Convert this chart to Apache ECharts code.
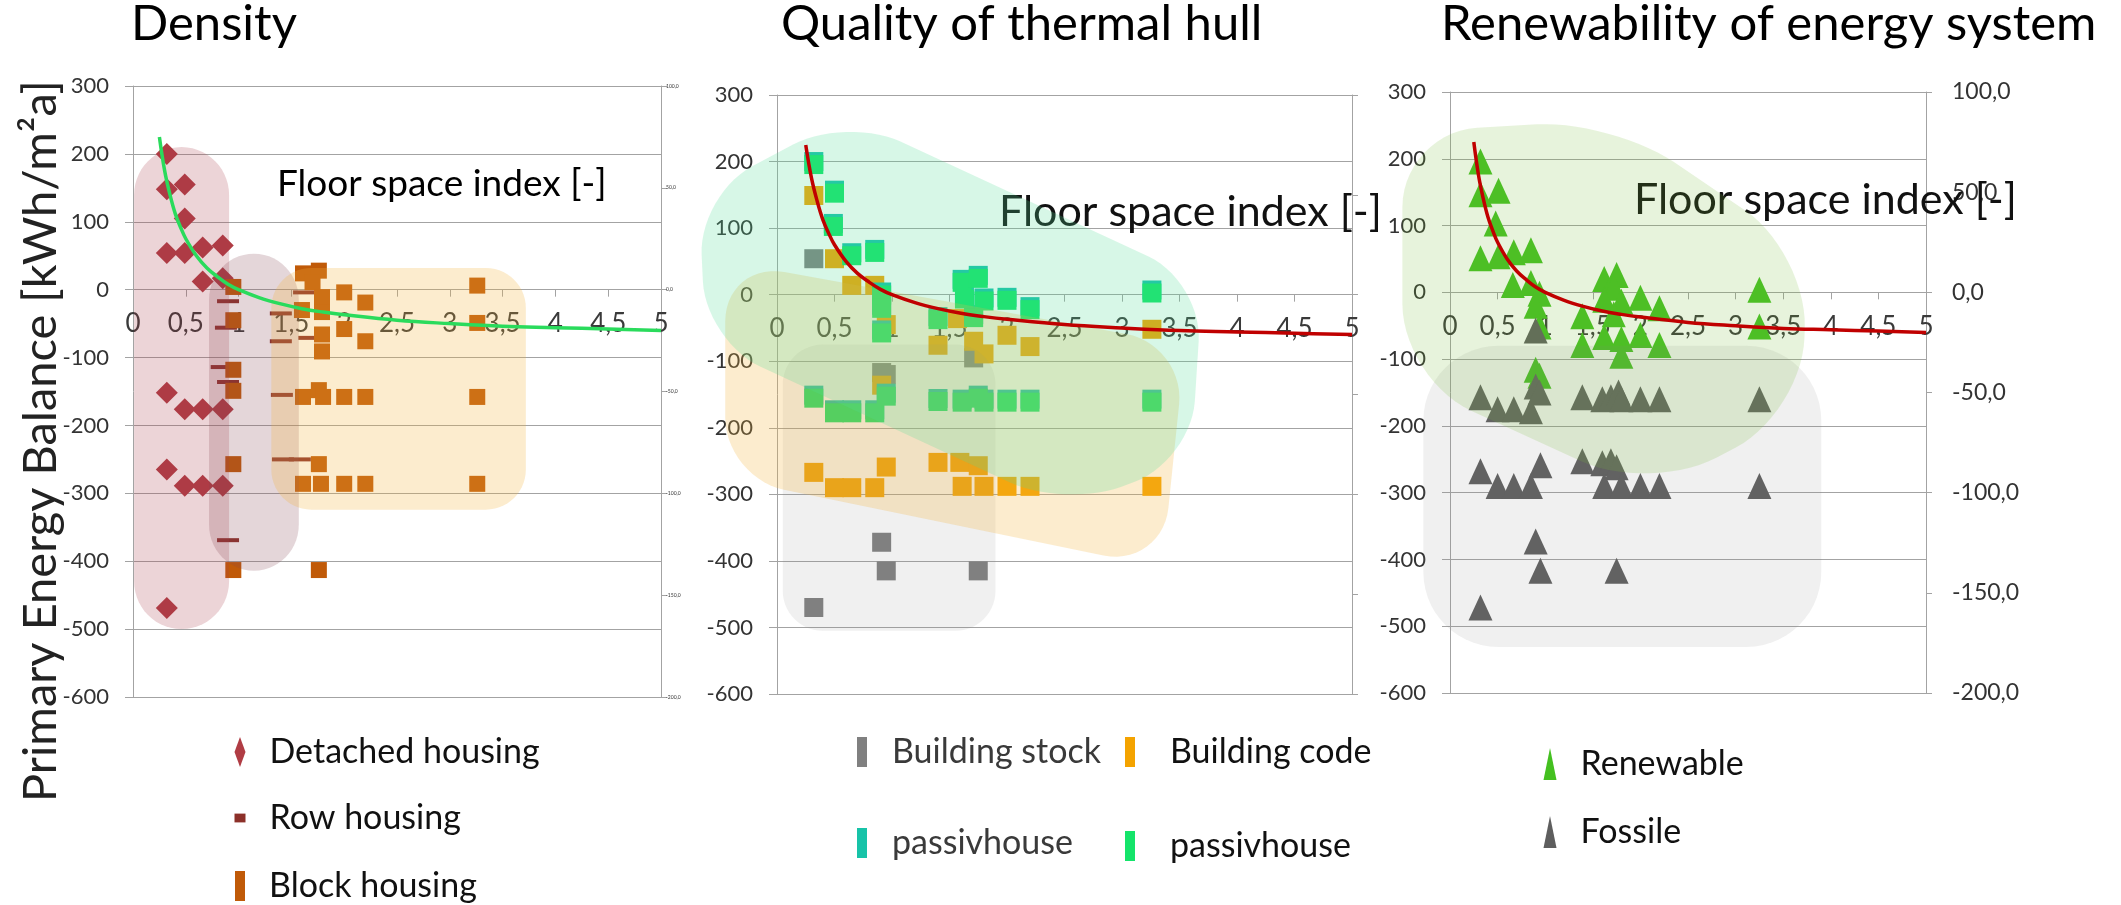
<!DOCTYPE html>
<html><head><meta charset="utf-8">
<script src="https://cdn.jsdelivr.net/npm/echarts@6/dist/echarts.min.js"></script>
<style>html,body{margin:0;padding:0;background:#fff}#c{width:2121px;height:905px}</style>
</head><body><div id="c"></div>
<script>
// ---------- DATA (floor space index, primary energy balance kWh/m²a) ----------
const detached = [[0.32,200],[0.32,148],[0.49,155],[0.49,105],[0.32,54],[0.49,54],[0.66,62],[0.85,65],[0.66,12],[0.85,17],
  [0.32,-152],[0.49,-176],[0.66,-176],[0.85,-176],[0.32,-265],[0.49,-289],[0.66,-289],[0.85,-289],[0.32,-469]];
const rowHousing = [[0.9,-17],[0.88,-56],[0.84,-114],[0.9,-136],[0.9,-369],[1.4,-35],[1.4,-76],[1.41,-155],[1.42,-250],[1.58,-250],[1.62,-4],[1.67,-71]];
const blockHousing = [[0.95,4],[0.95,-45],[0.95,-118],[0.95,-149],[0.95,-257],[0.95,-413],
  [1.61,24],[1.76,28],[1.7,11],[1.79,-11],[1.79,-33],[1.6,-30],[1.79,-66],[1.79,-91],[2.0,-4],[2.2,-19],[2.0,-58],[2.2,-76],[3.26,6],[3.26,-49],
  [1.61,-158],[1.76,-148],[1.8,-158],[2.0,-158],[2.2,-158],[3.26,-158],[1.76,-257],
  [1.61,-286],[1.78,-286],[2.0,-286],[2.2,-286],[3.26,-286],[1.76,-413]];
const buildingStock = [[0.32,54],[0.91,-117],[0.95,-120],[1.71,-95],[0.91,-372],[0.95,-415],[1.75,-415],[0.32,-470]];
const buildingCode = [[0.32,149],[0.5,54],[0.65,14],[0.85,14],[0.95,-45],[1.4,-76],[1.57,-36],[1.71,-70],[1.8,-89],[2.0,-61],[2.2,-78],[3.26,-52],
  [0.91,-136],[0.32,-267],[0.5,-290],[0.65,-290],[0.85,-290],[0.95,-259],[1.4,-252],[1.59,-252],[1.75,-257],[1.61,-288],[1.8,-288],[2.0,-288],[2.2,-288],[3.26,-288]];
const passivhouse = [[0.32,197],[0.5,154],[0.49,104],[0.65,60],[0.85,65],[0.91,1],[0.91,-19],[0.91,-56],[1.4,-36],[1.61,20],[1.75,26],[1.63,-5],[1.8,-8],[1.71,-33],[2.0,-7],[2.2,-21],[3.26,4],
  [0.32,-154],[0.5,-176],[0.65,-176],[0.85,-176],[0.95,-151],[1.4,-159],[1.61,-160],[1.75,-154],[1.8,-160],[2.0,-160],[2.2,-160],[3.26,-160]];
const renewable = [[0.32,196],[0.32,147],[0.51,152],[0.48,103],[0.32,51],[0.51,54],[0.67,60],[0.85,63],[0.66,11],[0.85,14],[0.94,-2],[0.9,-20],[0.94,-51],
  [1.39,-36],[1.39,-79],[1.62,20],[1.75,26],[1.72,7],[1.62,-11],[1.8,-14],[2.0,-8],[2.2,-24],[1.72,-33],[1.62,-67],[1.8,-70],[1.8,-95],[2.0,-64],[2.2,-79],
  [3.25,4],[3.25,-51],[0.9,-116],[0.94,-125]];
const fossile = [[0.9,-57],[0.32,-157],[0.5,-175],[0.67,-175],[0.85,-178],[0.9,-141],[0.94,-150],[1.39,-157],[1.6,-160],[1.69,-157],[1.77,-150],[1.8,-160],[2.0,-160],[2.2,-160],[3.25,-160],
  [0.32,-268],[0.5,-290],[0.67,-290],[0.85,-290],[0.95,-259],[1.39,-253],[1.6,-256],[1.69,-253],[1.75,-262],[1.62,-290],[1.8,-290],[2.0,-290],[2.2,-290],[3.25,-290],
  [0.9,-373],[0.95,-417],[1.75,-417],[0.32,-472]];
const trendline = [[0.25,225],[0.3,175],[0.35,140],[0.4,112],[0.45,92],[0.5,75],[0.6,50],[0.7,32],[0.8,19],[0.9,8],[1.0,0],[1.2,-12],[1.4,-21],
  [1.6,-28],[1.8,-33],[2.0,-37],[2.5,-45],[3.0,-50],[3.5,-54],[4.0,-56],[4.5,-58],[5.0,-60]];
// highlight regions (data coordinates of outline corners)
const regionDetached = [[0.01,210],[0.91,210],[0.91,-500],[0.01,-500]];
const regionRow = [[0.72,53],[1.57,53],[1.57,-414],[0.72,-414]];
const regionBlock = [[1.31,32],[3.72,32],[3.72,-324],[1.31,-324]];
const regionPassiv = [[-0.68,150],[0.6,268],[3.7,20],[3.6,-250],[2.5,-320],[-0.62,-70]];
const regionCode = [[-0.45,50],[3.55,-75],[3.35,-410],[-0.45,-275]];
const regionStock = [[0.05,-75],[1.9,-75],[1.9,-505],[0.05,-505]];
const regionRenew = [[-0.5,240],[1.7,258],[3.75,60],[3.7,-180],[2.1,-300],[-0.5,-130]];
const regionFossil = [[-0.28,-80],[3.9,-80],[3.9,-531],[-0.28,-531]];
const yLeftRange = [-600, 300, 100];
const yRightRange = [-200, 100, 50];
const xRange = [0, 5, 0.5];
const titles = ['Density','Quality of thermal hull','Renewability of energy system'];
const xLabelName = 'Floor space index [-]';
const yAxisName = 'Primary Energy Balance [kWh/m²a]';

// ---------- STYLE ----------
const FONT = 'Lato, "Open Sans", sans-serif';
const grids = [
  {left:133, top:86, width:528, height:611},
  {left:777, top:95, width:575, height:599},
  {left:1450, top:92, width:476, height:601}
];
const GRID = '#A3A3A3';

function roundedPoly(p, r, segs){
  const n = p.length, out = [], K = 0.5523;
  for (let i=0;i<n;i++){
    const p0=p[(i-1+n)%n], p1=p[i], p2=p[(i+1)%n];
    const d1=Math.hypot(p0[0]-p1[0],p0[1]-p1[1]), d2=Math.hypot(p2[0]-p1[0],p2[1]-p1[1]);
    const r1=Math.min(r,d1/2), r2=Math.min(r,d2/2);
    const a=[p1[0]+(p0[0]-p1[0])/d1*r1, p1[1]+(p0[1]-p1[1])/d1*r1];
    const b=[p1[0]+(p2[0]-p1[0])/d2*r2, p1[1]+(p2[1]-p1[1])/d2*r2];
    const c1=[a[0]+(p1[0]-a[0])*K, a[1]+(p1[1]-a[1])*K];
    const c2=[b[0]+(p1[0]-b[0])*K, b[1]+(p1[1]-b[1])*K];
    for (let k=0;k<=segs;k++){
      const t=k/segs, u=1-t;
      out.push([u*u*u*a[0]+3*u*u*t*c1[0]+3*u*t*t*c2[0]+t*t*t*b[0],
                u*u*u*a[1]+3*u*u*t*c1[1]+3*u*t*t*c2[1]+t*t*t*b[1]]);
    }
  }
  return out;
}
function regionSeries(gi, list){
  return {
    type:'custom', xAxisIndex:gi, yAxisIndex:2*gi, z:3, silent:true, clip:false,
    data: list.map(()=>[0,0]),
    renderItem:(params, api)=>{
      const s = list[params.dataIndex];
      const px = s.pts.map(q=>api.coord(q));
      return {type:'polygon', shape:{points: roundedPoly(px, s.r, 14)}, style:{fill:s.fill}};
    }
  };
}
const comma = v => String(v).replace('.', ',');

const xAxes = [], yAxes = [];
for (let i=0;i<3;i++){
  // x axis drawn along the zero line of the left value axis
  const zeroShift = grids[i].height * (0 - yLeftRange[0]) / (yLeftRange[1] - yLeftRange[0]);
  xAxes.push({gridIndex:i, type:'value', min:xRange[0], max:xRange[1], interval:xRange[2], position:'bottom', offset:-zeroShift,
    axisLine:{show:true, onZero:false, lineStyle:{color:GRID, width:1}},
    axisTick:{show:true, length:7, lineStyle:{color:GRID}},
    axisLabel:{fontSize:26, color:'#3a3a3a', fontFamily:FONT, margin:21, formatter:comma, hideOverlap:false},
    splitLine:{show:false}});
  yAxes.push({gridIndex:i, type:'value', min:yLeftRange[0], max:yLeftRange[1], interval:yLeftRange[2], position:'left',
    axisLine:{show:true, onZero:false, lineStyle:{color:GRID}},
    axisTick:{show:true, length:8, lineStyle:{color:GRID}},
    axisLabel:{fontSize:22, color:'#333', fontFamily:FONT, margin:24},
    splitLine:{show:true, lineStyle:{color:GRID, width:1.2}}});
  yAxes.push({gridIndex:i, type:'value', min:yRightRange[0], max:yRightRange[1], interval:yRightRange[2], position:'right',
    axisLine:{show:true, onZero:false, lineStyle:{color:GRID}},
    axisTick:{show:true, length:6, lineStyle:{color:GRID}},
    axisLabel:{show:i!==1, fontSize:i===0?5:23, color:'#333', fontFamily:FONT, margin:i===0?5:26,
      formatter:v=>v.toFixed(1).replace('.', ',')},
    splitLine:{show:false}});
}

function scatter(name, gi, data, symbol, size, color, extra){
  return Object.assign({type:'scatter', name, xAxisIndex:gi, yAxisIndex:2*gi, data, symbol, symbolSize:size,
    itemStyle:{color, opacity:1}, z:2, silent:true}, extra||{});
}
function trend(gi, color){
  return {type:'line', xAxisIndex:gi, yAxisIndex:2*gi, data:trendline, smooth:0.4, showSymbol:false, z:4, silent:true,
    lineStyle:{color, width:3.5}};
}

const series = [
  scatter('Detached housing',0,detached,'diamond',22,'#B03C44'),
  scatter('Row housing',0,rowHousing,'rect',[22,4],'#8C3029'),
  scatter('Block housing',0,blockHousing,'rect',16,'#C05A08'),
  regionSeries(0,[
    {pts:regionDetached, r:48, fill:'rgba(170,60,75,0.22)'},
    {pts:regionRow, r:46, fill:'rgba(130,70,80,0.22)'},
    {pts:regionBlock, r:40, fill:'rgba(245,180,60,0.25)'}]),
  trend(0,'#2ADB5C'),
  scatter('Building stock',1,buildingStock,'rect',19,'#808080'),
  scatter('Building code',1,buildingCode,'rect',19,'#F4A300'),
  scatter('passivhouse',1,passivhouse,'rect',19,'#17C3A8',{symbolOffset:[0,-2]}),
  scatter('passivhouse ',1,passivhouse,'rect',19,'#14E46A',{symbolOffset:[0,1]}),
  regionSeries(1,[
    {pts:regionStock, r:40, fill:'rgba(128,128,128,0.12)'},
    {pts:regionCode, r:60, fill:'rgba(245,180,60,0.25)'},
    {pts:regionPassiv, r:60, fill:'rgba(80,220,150,0.23)'}]),
  trend(1,'#C00000'),
  scatter('Renewable',2,renewable,'triangle',[24,26],'#44C020'),
  scatter('Fossile',2,fossile,'triangle',[24,26],'#5E5E5E'),
  regionSeries(2,[
    {pts:regionFossil, r:75, fill:'rgba(128,128,128,0.12)'},
    {pts:regionRenew, r:75, fill:'rgba(120,190,60,0.18)'}]),
  trend(2,'#C00000')
];

// one legend component per entry: [item, marker centre x, text centre y, marker w, marker h, text gap, text colour]
const legendItems = [
  ['Detached housing', 240, 752, 11, 30, 19, '#111'],
  [{name:'Row housing', icon:'path://M0,0h10v8h-10z'}, 240, 818, 11, 30, 19, '#111'],
  ['Block housing', 240, 886, 10, 30, 19, '#111'],
  ['Building stock', 862, 752, 10, 30, 20, '#3a3a3a'],
  ['passivhouse', 862, 843, 10, 30, 20, '#3a3a3a'],
  ['Building code', 1130, 752, 10, 30, 30, '#111'],
  ['passivhouse ', 1130, 846, 10, 30, 30, '#111'],
  ['Renewable', 1550, 764, 13, 32, 19, '#111'],
  ['Fossile', 1550, 832, 13, 32, 19, '#111']
];
const legends = legendItems.map(([item, cx, cy, w, h, gap, col])=>({
  data:[item], left:cx - w/2, top:cy - 19, orient:'vertical', selectedMode:false, padding:0,
  itemWidth:w, itemHeight:h,
  textStyle:{fontSize:34, color:col, fontFamily:FONT, padding:[0,0,0,gap], lineHeight:38}
}));

const titleLeft = [131, 781, 1441];
const option = {
  animation:false,
  backgroundColor:'#fff',
  title: titles.map((t,i)=>({text:t, left:titleLeft[i], top:0, padding:0,
    textStyle:{fontSize:49, fontWeight:'normal', color:'#000', fontFamily:FONT}})),
  grid: grids.map(g=>Object.assign({outerBoundsMode:'none', containLabel:false}, g)),
  xAxis: xAxes, yAxis: yAxes, legend: legends, series,
  graphic: [
    {type:'text', x:41, y:441, rotation:Math.PI/2, z:1,
      style:{text:yAxisName, fontSize:47, fill:'#222', fontFamily:FONT, align:'center', verticalAlign:'middle'}},
    {type:'text', left:277, top:166, z:1, style:{text:xLabelName, fontSize:37, fill:'#000', fontFamily:FONT}},
    {type:'text', left:999, top:191, z:1, style:{text:xLabelName, fontSize:43, fill:'#111', fontFamily:FONT}},
    {type:'text', left:1634, top:179, z:1, style:{text:xLabelName, fontSize:43, fill:'#111', fontFamily:FONT}},
    {type:'text', left:950, top:403, z:1, style:{text:'C', fontSize:22, fill:'#fff', fontFamily:FONT}}
  ]
};
const chart = echarts.init(document.getElementById('c'), null, {renderer:'canvas'});
chart.setOption(option);
</script></body></html>
